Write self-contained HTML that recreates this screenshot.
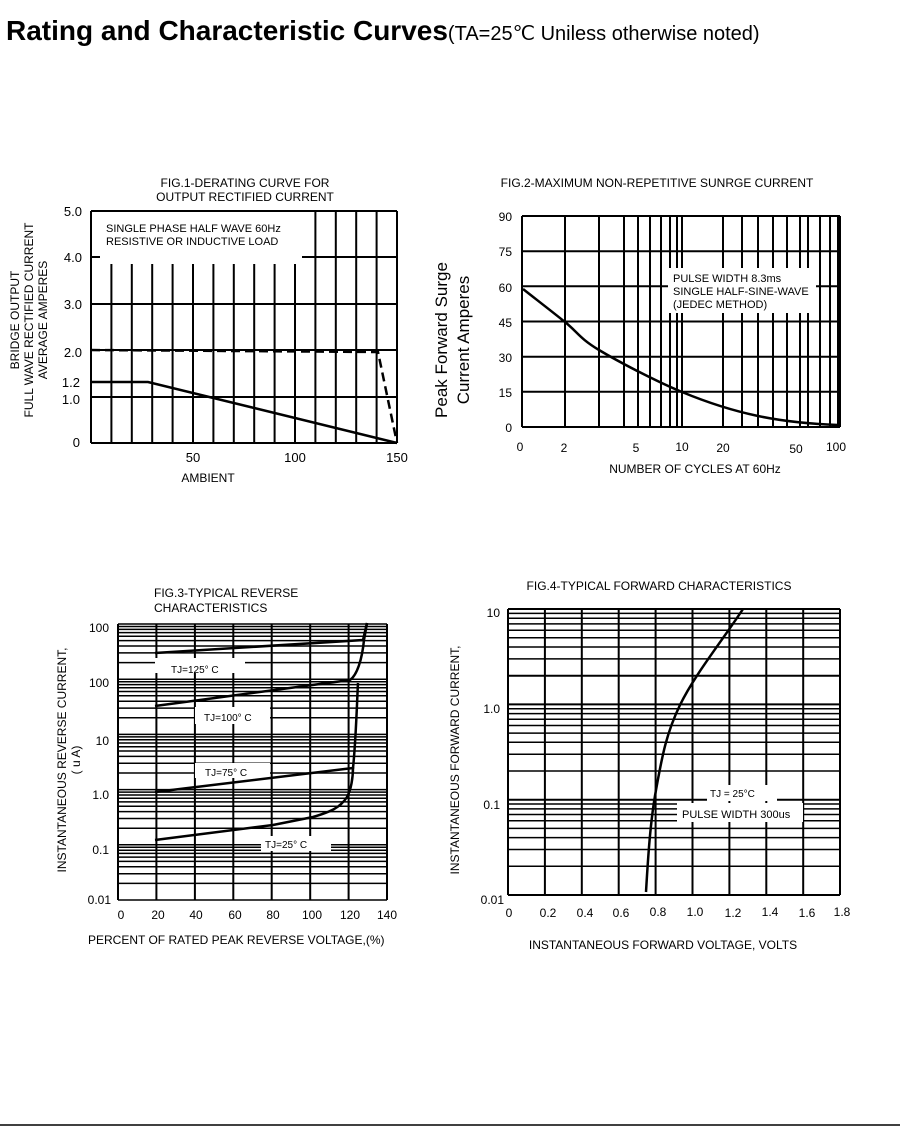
<!DOCTYPE html>
<html><head><meta charset="utf-8"><style>
html,body{margin:0;padding:0;background:#fff;}
svg{display:block;font-family:"Liberation Sans",Arial,sans-serif;}
</style></head><body>
<svg width="900" height="1133" viewBox="0 0 900 1133" xmlns="http://www.w3.org/2000/svg">
<text x="6" y="40" font-size="28" font-weight="bold">Rating and Characteristic Curves<tspan font-size="20" font-weight="normal">(TA=25℃ Uniless otherwise noted)</tspan></text>
<line x1="0" y1="1125" x2="900" y2="1125" stroke="#000" stroke-width="1.5"/>
<g stroke="#000" fill="none">
<path stroke-width="2" d="M91,211V443 M111.4,264V443 M131.8,264V443 M152.2,264V443 M172.6,264V443 M193,264V443 M213.4,264V443 M233.8,264V443 M254.2,264V443 M274.6,264V443 M295,264V443 M315.4,211V443 M335.8,211V443 M356.2,211V443 M376.6,211V443 M397,211V443 M91,211H397 M91,257H100 M302,257H397 M91,304H397 M91,350H397 M91,397H397 M91,443H397"/>
<path d="M91,350 L378,352 L397,443" stroke-width="2.5" stroke-dasharray="9,5"/>
<path d="M91,382 L148,382 L397,443" stroke-width="2.5"/>
<path stroke-width="2" d="M522,216V427 M565,216V427 M599,216V427 M624,216V427 M638,216V427 M650,216V427 M661,216V427 M670,216V427 M677,216V427 M682,216V427 M723,216V427 M742,216V427 M758,216V427 M773,216V427 M787,216V427 M800,216V427 M808,216V427 M820,216V427 M830,216V427 M838,216V427 M840,216V427 M522,216H840 M522,251.2H840 M522,286.3H840 M522,321.5H840 M522,356.7H840 M522,391.8H840 M522,427H840"/>
<rect x="668" y="268" width="148" height="45" fill="#fff" stroke="none"/>
<path d="M523,289 C537,300 552.3,311.8 565,322 C577.7,332.2 579.5,338.3 599,350 C618.5,361.7 655.5,381 682,392 C708.5,403 732,410.5 758,416 C784,421.5 812,424 838,425" stroke-width="2.5"/>
<path stroke-width="1.5" d="M118,900H387 M118,883.4H387 M118,873.7H387 M118,866.8H387 M118,861.4H387 M118,857.1H387 M118,853.4H387 M118,850.2H387 M118,847.3H387 M118,844.8H387 M118,828.2H387 M118,818.5H387 M118,811.6H387 M118,806.2H387 M118,801.9H387 M118,798.2H387 M118,795H387 M118,792.1H387 M118,789.6H387 M118,773H387 M118,763.3H387 M118,756.4H387 M118,751H387 M118,746.7H387 M118,743H387 M118,739.8H387 M118,736.9H387 M118,734.4H387 M118,717.8H387 M118,708.1H387 M118,701.2H387 M118,695.8H387 M118,691.5H387 M118,687.8H387 M118,684.6H387 M118,681.7H387 M118,679.2H387 M118,662.6H387 M118,652.9H387 M118,646H387 M118,640.6H387 M118,636.3H387 M118,632.6H387 M118,629.4H387 M118,626.5H387 M118,624H387"/>
<path stroke-width="2" d="M118,624V900 M156.4,624V900 M194.9,624V900 M233.3,624V900 M271.7,624V900 M310.2,624V900 M348.6,624V900 M387,624V900"/>
<g fill="#fff" stroke="none"><rect x="155" y="658" width="90" height="15"/><rect x="195" y="707" width="75" height="17"/><rect x="195" y="763" width="75" height="15"/><rect x="261" y="836" width="70" height="15"/></g>
<path d="M155,653 L363,640 L367,623" stroke-width="2.5"/>
<path d="M155,706 L350,680 C357,675 362,660 364,640 L367,623" stroke-width="2.5"/>
<path d="M155,792 L353,768 C356,740 357,700 358,683" stroke-width="2.5"/>
<path d="M155,840 L273,825 L313,817 C330,812 340,808 347,797 C351,790 353,778 353,767" stroke-width="2.5"/>
<path stroke-width="1.5" d="M508,866.3H840 M508,849.5H840 M508,837.6H840 M508,828.4H840 M508,820.8H840 M508,814.5H840 M508,808.9H840 M508,804H840 M508,771H840 M508,754.2H840 M508,742.3H840 M508,733.1H840 M508,725.5H840 M508,719.2H840 M508,713.6H840 M508,708.7H840 M508,658.9H840 M508,647H840 M508,637.8H840 M508,630.2H840 M508,623.9H840 M508,618.3H840 M508,613.4H840"/>
<path stroke-width="2" d="M508,895H840 M508,799.7H840 M508,704.4H840 M508,675.7H840 M508,609H840 M508,609V895 M544.9,609V895 M581.8,609V895 M618.7,609V895 M655.6,609V895 M692.5,609V895 M729.4,609V895 M766.3,609V895 M803.2,609V895 M840,609V895"/>
<g fill="#fff" stroke="none"><rect x="707" y="785" width="70" height="16"/><rect x="677" y="803" width="126" height="19"/></g>
<path d="M646,892 C648,858 650.3,821 656,790 C661.7,759 665.5,735 680,705 C694.5,675 722,641 743,609" stroke-width="2.5"/>
</g>
<g font-size="12" fill="#000">
<text x="245" y="187" text-anchor="middle">FIG.1-DERATING CURVE FOR</text>
<text x="245" y="201" text-anchor="middle">OUTPUT RECTIFIED CURRENT</text>
<text x="106" y="232" font-size="11">SINGLE PHASE HALF WAVE  60Hz</text>
<text x="106" y="245" font-size="11">RESISTIVE OR INDUCTIVE LOAD</text>
<g font-size="13" text-anchor="end">
<text x="82" y="216">5.0</text><text x="82" y="262">4.0</text><text x="82" y="309">3.0</text>
<text x="82" y="357">2.0</text><text x="80" y="387">1.2</text><text x="80" y="404">1.0</text><text x="80" y="447">0</text>
</g>
<g font-size="13" text-anchor="middle"><text x="193" y="462">50</text><text x="295" y="462">100</text><text x="397" y="462">150</text></g>
<text x="208" y="482" text-anchor="middle">AMBIENT</text>
<g transform="translate(0,320) rotate(-90)" text-anchor="middle" font-size="12">
<text x="0" y="19">BRIDGE OUTPUT</text><text x="0" y="33">FULL WAVE RECTIFIED CURRENT</text><text x="0" y="47">AVERAGE AMPERES</text></g>
<text x="657" y="187" text-anchor="middle">FIG.2-MAXIMUM NON-REPETITIVE  SUNRGE CURRENT</text>
<g font-size="12" text-anchor="end">
<text x="512" y="221">90</text><text x="512" y="256">75</text><text x="512" y="292">60</text><text x="512" y="327">45</text>
<text x="512" y="362">30</text><text x="512" y="397">15</text><text x="512" y="432">0</text></g>
<g font-size="12" text-anchor="middle"><text x="520" y="451">0</text><text x="564" y="452">2</text><text x="636" y="452">5</text><text x="682" y="451">10</text><text x="723" y="452">20</text><text x="796" y="453">50</text><text x="836" y="451">100</text></g>
<text x="695" y="473" text-anchor="middle">NUMBER OF CYCLES AT 60Hz</text>
<text x="673" y="282" font-size="11">PULSE WIDTH 8.3ms</text>
<text x="673" y="295" font-size="11">SINGLE HALF-SINE-WAVE</text>
<text x="673" y="308" font-size="11">(JEDEC METHOD)</text>
<g transform="translate(0,340) rotate(-90)" text-anchor="middle" font-size="17">
<text x="0" y="447">Peak Forward Surge</text><text x="0" y="469">Current  Amperes</text></g>
<text x="154" y="597">FIG.3-TYPICAL REVERSE</text>
<text x="154" y="612">CHARACTERISTICS</text>
<g font-size="12" text-anchor="end">
<text x="109" y="632">100</text><text x="109" y="687">100</text><text x="109" y="745">10</text><text x="109" y="799">1.0</text><text x="109" y="854">0.1</text><text x="111" y="904">0.01</text></g>
<g font-size="12" text-anchor="middle"><text x="121" y="919">0</text><text x="158" y="919">20</text><text x="196" y="919">40</text><text x="235" y="919">60</text><text x="273" y="919">80</text><text x="312" y="919">100</text><text x="350" y="919">120</text><text x="387" y="919">140</text></g>
<text x="88" y="944">PERCENT OF RATED PEAK REVERSE VOLTAGE,(%)</text>
<g font-size="10"><text x="171" y="673">TJ=125°  C</text><text x="204" y="721">TJ=100°  C</text><text x="205" y="776">TJ=75°  C</text><text x="265" y="848">TJ=25°  C</text></g>
<g transform="translate(0,760) rotate(-90)" text-anchor="middle" font-size="12">
<text x="0" y="66">INSTANTANEOUS REVERSE CURRENT,</text><text x="0" y="80">( u A)</text></g>
<text x="659" y="590" text-anchor="middle">FIG.4-TYPICAL FORWARD CHARACTERISTICS</text>
<g font-size="12" text-anchor="end"><text x="500" y="617">10</text><text x="500" y="713">1.0</text><text x="500" y="809">0.1</text><text x="504" y="904">0.01</text></g>
<g font-size="12" text-anchor="middle"><text x="509" y="917">0</text><text x="548" y="917">0.2</text><text x="585" y="917">0.4</text><text x="621" y="917">0.6</text><text x="658" y="916">0.8</text><text x="695" y="916">1.0</text><text x="733" y="917">1.2</text><text x="770" y="916">1.4</text><text x="807" y="917">1.6</text><text x="842" y="916">1.8</text></g>
<text x="663" y="949" text-anchor="middle">INSTANTANEOUS FORWARD VOLTAGE, VOLTS</text>
<text x="710" y="797" font-size="10">TJ = 25°C</text>
<text x="682" y="818" font-size="11">PULSE WIDTH 300us</text>
<g transform="translate(0,760) rotate(-90)" text-anchor="middle" font-size="12">
<text x="0" y="459">INSTANTANEOUS FORWARD CURRENT,</text></g>
</g>
</svg>
</body></html>
